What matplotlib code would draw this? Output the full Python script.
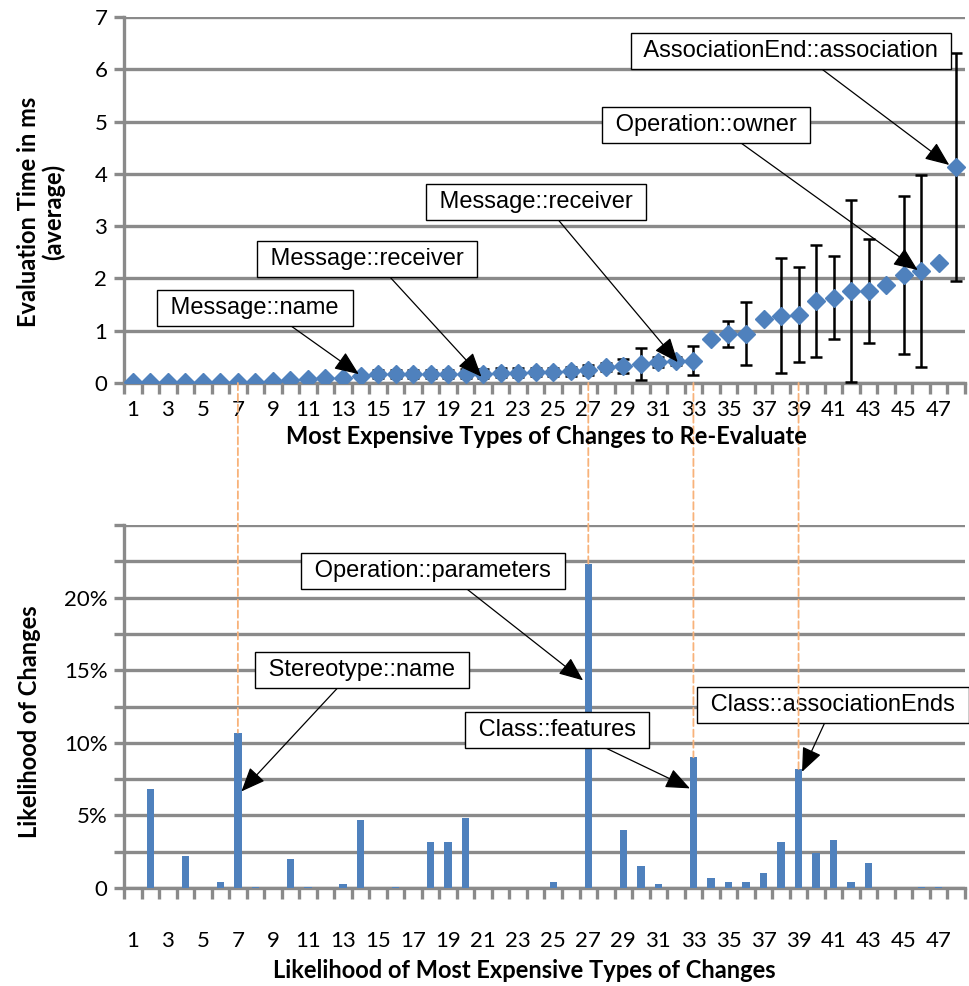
import matplotlib
matplotlib.use('Agg')
import matplotlib.pyplot as plt
import numpy as np
from matplotlib.patches import ConnectionPatch

# categories 1..48 (sorted by evaluation time)
categories = np.arange(1, 49)
tick_labels = [str(i) for i in range(1, 48, 2)]

# average evaluation time in ms and its error
eval_time = [0.01, 0.01, 0.01, 0.01, 0.01, 0.01, 0.01, 0.02, 0.03, 0.05,
             0.07, 0.09, 0.10, 0.14, 0.17, 0.17, 0.17, 0.17, 0.17, 0.18,
             0.18, 0.20, 0.20, 0.21, 0.21, 0.22, 0.25, 0.30, 0.33, 0.36,
             0.40, 0.42, 0.43, 0.85, 0.93, 0.94, 1.23, 1.29, 1.31, 1.57,
             1.63, 1.76, 1.76, 1.88, 2.07, 2.14, 2.29, 4.13]
eval_err = [0.01, 0.01, 0.01, 0.01, 0.01, 0.01, 0.01, 0.01, 0.02, 0.02,
            0.03, 0.03, 0.03, 0.03, 0.08, 0.08, 0.08, 0.08, 0.08, 0.08,
            0.08, 0.08, 0.08, 0.08, 0.08, 0.08, 0.10, 0.08, 0.13, 0.31,
            0.10, 0.08, 0.27, 0.02, 0.25, 0.60, 0.02, 1.10, 0.90, 1.07,
            0.79, 1.74, 0.99, 0.02, 1.51, 1.83, 0.02, 2.18]

# likelihood of the change type, in percent
likelihood = [0.0, 6.8, 0.0, 2.2, 0.0, 0.4, 10.7, 0.1, 0.0, 2.0,
              0.1, 0.0, 0.3, 4.7, 0.0, 0.1, 0.0, 3.2, 3.2, 4.85,
              0.0, 0.0, 0.0, 0.0, 0.4, 0.0, 22.3, 0.0, 4.0, 1.5,
              0.3, 0.0, 9.0, 0.7, 0.4, 0.4, 1.0, 3.2, 8.2, 2.4,
              3.3, 0.4, 1.7, 0.0, 0.0, 0.05, 0.1, 0.0]

# highlighted change types (dashed connectors)
highlight = [7, 27, 33, 39]

W, H = 969, 986
GRID = '#8a8a8a'
BLUE = '#4F81BD'
TICKFONT = ['Lato', 'DejaVu Sans']
BOXFONT = ['Liberation Sans', 'DejaVu Sans']

fig = plt.figure(figsize=(W / 100, H / 100), dpi=100)
ax1 = fig.add_axes([124 / W, 1 - 383 / H, (965 - 124) / W, (383 - 17) / H])
ax2 = fig.add_axes([124 / W, 1 - 888 / H, (965 - 124) / W, (888 - 525) / H])


def style(ax, label_pad):
    for s in ['top', 'right']:
        ax.spines[s].set_visible(False)
    for s in ['left', 'bottom']:
        ax.spines[s].set_color(GRID)
        ax.spines[s].set_linewidth(2.4)
    ax.set_xlim(0.5, 48.5)
    ax.set_xticks(np.arange(1, 48, 2))
    ax.set_xticklabels(tick_labels, family=TICKFONT, fontsize=16)
    ax.set_xticks(np.arange(0.5, 49, 1), minor=True)
    ax.tick_params(axis='x', which='major', length=0, pad=label_pad)
    ax.tick_params(axis='x', which='minor', length=8, width=2.4, color=GRID)
    ax.tick_params(axis='y', length=7, width=2.4, color=GRID, pad=5,
                   labelsize=16)
    for t in ax.get_yticklabels():
        t.set_family(TICKFONT)
    ax.grid(axis='y', color=GRID, lw=2.4)
    ax.set_axisbelow(True)


# top: evaluation time
ax1.errorbar(categories, eval_time, yerr=eval_err, fmt='D', color=BLUE,
             ms=9, ecolor='black', elinewidth=1.8, capsize=4.5, capthick=1.8,
             zorder=3)
ax1.set_ylim(0, 7)
ax1.set_yticks(range(0, 8))
ax1.set_yticklabels([str(i) for i in range(8)])
style(ax1, 12)

# bottom: likelihood
ax2.bar(categories, likelihood, width=0.42, color=BLUE, zorder=3)
ax2.set_ylim(0, 25)
yt = np.arange(0, 25.1, 2.5)
ax2.set_yticks(yt)
ax2.set_yticklabels(['0' if v == 0 else (f'{int(v)}%' if v % 5 == 0 and v < 25 else '')
                     for v in yt])
style(ax2, 31)

# dashed connectors between both charts
for c in highlight:
    con = ConnectionPatch(xyA=(c, 0), coordsA=ax1.transData,
                          xyB=(c, likelihood[c - 1]), coordsB=ax2.transData,
                          color='#F8B27A', lw=1.3, ls=(0, (4, 2)), zorder=1)
    fig.add_artist(con)

# annotations: text, target (data), box centre (image pixels), arrow start fraction
notes_top = [
    ('Message::name', (13.9, 0.17), (255, 308), 0.645),
    ('Message::receiver', (20.9, 0.12), (367, 259), 0.58),
    ('Message::receiver', (32.1, 0.40), (536, 202), 0.58),
    ('Operation::owner', (45.8, 2.16), (706, 125), 0.63),
    ('AssociationEnd::association', (47.6, 4.17), (791, 51), 0.57),
]
notes_bottom = [
    ('Operation::parameters', (26.7, 14.3), (433, 571), 0.6),
    ('Stereotype::name', (7.2, 6.65), (362, 670), 0.41),
    ('Class::features', (32.8, 6.86), (557, 730), 0.7),
    ('Class::associationEnds', (39.2, 8.0), (833, 705), 0.48),
]
for ax, notes in [(ax1, notes_top), (ax2, notes_bottom)]:
    for text, xy, (cx, cy), rx in notes:
        ax.annotate(' ' + text + ' ', xy=xy, xycoords='data',
                    xytext=(cx, H - cy), textcoords='figure pixels',
                    ha='center', va='center', fontsize=17, family=BOXFONT,
                    bbox=dict(boxstyle='square,pad=0.3', fc='white',
                              ec='black', lw=1.0),
                    arrowprops=dict(arrowstyle='-|>,head_length=0.6,head_width=0.25',
                                    mutation_scale=25, color='black', lw=0.9,
                                    shrinkA=0, shrinkB=0, relpos=(rx, 0)),
                    zorder=5, annotation_clip=False)

# axis titles
fig.text(546 / W, 1 - 437 / H, 'Most Expensive Types of Changes to Re-Evaluate',
         ha='center', va='center', fontsize=17, fontweight='bold', family=TICKFONT)
fig.text(524 / W, 1 - 970 / H, 'Likelihood of Most Expensive Types of Changes',
         ha='center', va='center', fontsize=17, fontweight='bold', family=TICKFONT)
fig.text(41 / W, 1 - 212 / H, 'Evaluation Time in ms\n(average)', rotation=90,
         ha='center', va='center', fontsize=17, fontweight='bold', family=TICKFONT,
         linespacing=1.1, multialignment='center')
fig.text(30 / W, 1 - 722 / H, 'Likelihood of Changes', rotation=90,
         ha='center', va='center', fontsize=17, fontweight='bold', family=TICKFONT)

fig.savefig('out.png', dpi=100)
